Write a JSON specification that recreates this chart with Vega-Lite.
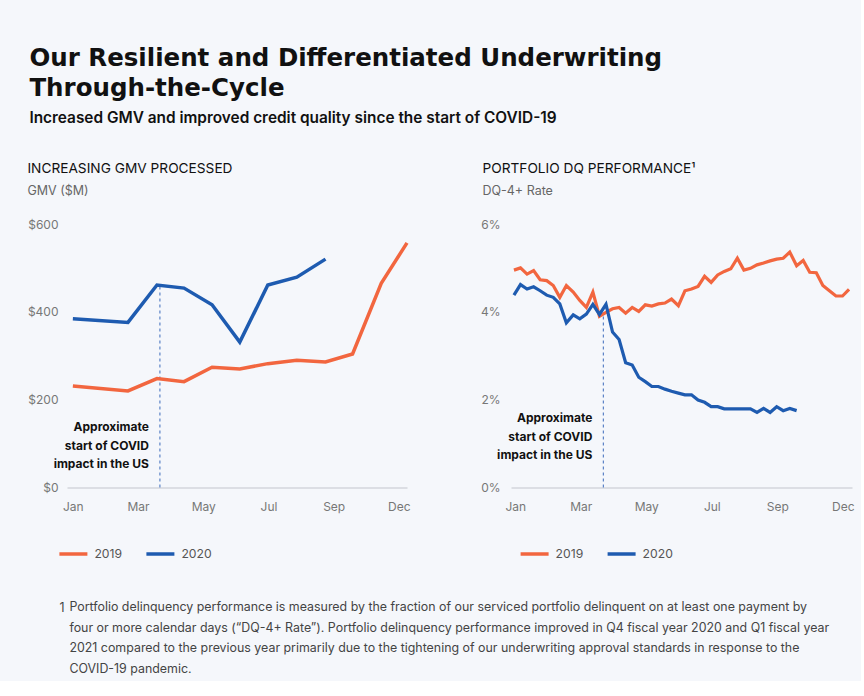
{
  "$schema": "https://vega.github.io/schema/vega-lite/v6.json",
  "padding": {"left": 27, "top": 46, "right": 5, "bottom": 5},
  "background": "#f5f7fb",
  "title": {
    "text": ["Our Resilient and Differentiated Underwriting", "Through-the-Cycle"],
    "subtitle": "Increased GMV and improved credit quality since the start of COVID-19",
    "anchor": "start",
    "frame": "bounds",
    "dx": 2,
    "font": "DejaVu Sans",
    "fontSize": 24.5,
    "fontWeight": "bold",
    "lineHeight": 30,
    "color": "#111111",
    "subtitleFont": "Inter",
    "subtitleFontSize": 15.4,
    "subtitleFontWeight": 600,
    "subtitleColor": "#111111",
    "subtitlePadding": 9,
    "offset": 35
  },
  "datasets": {
    "gmv": [
      {"x": 0, "value": 231, "year": "2019"},
      {"x": 1.69, "value": 220, "year": "2019"},
      {"x": 2.58, "value": 248, "year": "2019"},
      {"x": 3.41, "value": 241, "year": "2019"},
      {"x": 4.27, "value": 274, "year": "2019"},
      {"x": 5.12, "value": 270, "year": "2019"},
      {"x": 5.98, "value": 282, "year": "2019"},
      {"x": 6.87, "value": 290, "year": "2019"},
      {"x": 7.75, "value": 286, "year": "2019"},
      {"x": 8.58, "value": 304, "year": "2019"},
      {"x": 9.46, "value": 465, "year": "2019"},
      {"x": 10.25, "value": 557, "year": "2019"},
      {"x": 0, "value": 384, "year": "2020"},
      {"x": 1.69, "value": 376, "year": "2020"},
      {"x": 2.58, "value": 461, "year": "2020"},
      {"x": 3.41, "value": 454, "year": "2020"},
      {"x": 4.27, "value": 416, "year": "2020"},
      {"x": 5.12, "value": 331, "year": "2020"},
      {"x": 5.98, "value": 461, "year": "2020"},
      {"x": 6.87, "value": 479, "year": "2020"},
      {"x": 7.75, "value": 520, "year": "2020"}
    ],
    "dq": [
      {"x": -0.04, "value": 4.95, "year": "2019"},
      {"x": 0.16, "value": 5.0, "year": "2019"},
      {"x": 0.36, "value": 4.86, "year": "2019"},
      {"x": 0.56, "value": 4.94, "year": "2019"},
      {"x": 0.76, "value": 4.73, "year": "2019"},
      {"x": 0.96, "value": 4.71, "year": "2019"},
      {"x": 1.16, "value": 4.6, "year": "2019"},
      {"x": 1.36, "value": 4.33, "year": "2019"},
      {"x": 1.56, "value": 4.6, "year": "2019"},
      {"x": 1.77, "value": 4.45, "year": "2019"},
      {"x": 1.97, "value": 4.26, "year": "2019"},
      {"x": 2.17, "value": 4.1, "year": "2019"},
      {"x": 2.37, "value": 4.45, "year": "2019"},
      {"x": 2.57, "value": 3.9, "year": "2019"},
      {"x": 2.77, "value": 3.99, "year": "2019"},
      {"x": 2.97, "value": 4.07, "year": "2019"},
      {"x": 3.17, "value": 4.1, "year": "2019"},
      {"x": 3.37, "value": 3.97, "year": "2019"},
      {"x": 3.57, "value": 4.1, "year": "2019"},
      {"x": 3.77, "value": 4.01, "year": "2019"},
      {"x": 3.97, "value": 4.16, "year": "2019"},
      {"x": 4.17, "value": 4.13, "year": "2019"},
      {"x": 4.37, "value": 4.18, "year": "2019"},
      {"x": 4.57, "value": 4.2, "year": "2019"},
      {"x": 4.77, "value": 4.29, "year": "2019"},
      {"x": 4.98, "value": 4.14, "year": "2019"},
      {"x": 5.18, "value": 4.48, "year": "2019"},
      {"x": 5.38, "value": 4.52, "year": "2019"},
      {"x": 5.58, "value": 4.58, "year": "2019"},
      {"x": 5.78, "value": 4.81, "year": "2019"},
      {"x": 5.98, "value": 4.67, "year": "2019"},
      {"x": 6.18, "value": 4.84, "year": "2019"},
      {"x": 6.38, "value": 4.92, "year": "2019"},
      {"x": 6.58, "value": 4.98, "year": "2019"},
      {"x": 6.78, "value": 5.22, "year": "2019"},
      {"x": 6.98, "value": 4.95, "year": "2019"},
      {"x": 7.18, "value": 4.99, "year": "2019"},
      {"x": 7.38, "value": 5.07, "year": "2019"},
      {"x": 7.58, "value": 5.11, "year": "2019"},
      {"x": 7.78, "value": 5.16, "year": "2019"},
      {"x": 7.98, "value": 5.2, "year": "2019"},
      {"x": 8.18, "value": 5.22, "year": "2019"},
      {"x": 8.38, "value": 5.36, "year": "2019"},
      {"x": 8.59, "value": 5.05, "year": "2019"},
      {"x": 8.79, "value": 5.17, "year": "2019"},
      {"x": 8.99, "value": 4.9, "year": "2019"},
      {"x": 9.19, "value": 4.89, "year": "2019"},
      {"x": 9.39, "value": 4.6, "year": "2019"},
      {"x": 9.59, "value": 4.48, "year": "2019"},
      {"x": 9.79, "value": 4.36, "year": "2019"},
      {"x": 9.99, "value": 4.36, "year": "2019"},
      {"x": 10.19, "value": 4.51, "year": "2019"},
      {"x": -0.04, "value": 4.38, "year": "2020"},
      {"x": 0.16, "value": 4.62, "year": "2020"},
      {"x": 0.36, "value": 4.52, "year": "2020"},
      {"x": 0.56, "value": 4.57, "year": "2020"},
      {"x": 0.76, "value": 4.48, "year": "2020"},
      {"x": 0.96, "value": 4.38, "year": "2020"},
      {"x": 1.16, "value": 4.33, "year": "2020"},
      {"x": 1.36, "value": 4.18, "year": "2020"},
      {"x": 1.56, "value": 3.75, "year": "2020"},
      {"x": 1.77, "value": 3.93, "year": "2020"},
      {"x": 1.97, "value": 3.84, "year": "2020"},
      {"x": 2.17, "value": 3.95, "year": "2020"},
      {"x": 2.37, "value": 4.17, "year": "2020"},
      {"x": 2.57, "value": 3.94, "year": "2020"},
      {"x": 2.77, "value": 4.17, "year": "2020"},
      {"x": 2.97, "value": 3.54, "year": "2020"},
      {"x": 3.17, "value": 3.37, "year": "2020"},
      {"x": 3.37, "value": 2.84, "year": "2020"},
      {"x": 3.57, "value": 2.79, "year": "2020"},
      {"x": 3.77, "value": 2.51, "year": "2020"},
      {"x": 3.97, "value": 2.41, "year": "2020"},
      {"x": 4.17, "value": 2.3, "year": "2020"},
      {"x": 4.37, "value": 2.3, "year": "2020"},
      {"x": 4.57, "value": 2.24, "year": "2020"},
      {"x": 4.77, "value": 2.19, "year": "2020"},
      {"x": 4.98, "value": 2.15, "year": "2020"},
      {"x": 5.18, "value": 2.11, "year": "2020"},
      {"x": 5.38, "value": 2.11, "year": "2020"},
      {"x": 5.58, "value": 1.99, "year": "2020"},
      {"x": 5.78, "value": 1.94, "year": "2020"},
      {"x": 5.98, "value": 1.84, "year": "2020"},
      {"x": 6.18, "value": 1.84, "year": "2020"},
      {"x": 6.38, "value": 1.79, "year": "2020"},
      {"x": 6.58, "value": 1.79, "year": "2020"},
      {"x": 6.78, "value": 1.79, "year": "2020"},
      {"x": 6.98, "value": 1.79, "year": "2020"},
      {"x": 7.18, "value": 1.79, "year": "2020"},
      {"x": 7.38, "value": 1.71, "year": "2020"},
      {"x": 7.58, "value": 1.8, "year": "2020"},
      {"x": 7.78, "value": 1.71, "year": "2020"},
      {"x": 7.98, "value": 1.84, "year": "2020"},
      {"x": 8.18, "value": 1.75, "year": "2020"},
      {"x": 8.38, "value": 1.8, "year": "2020"},
      {"x": 8.59, "value": 1.75, "year": "2020"}
    ]
  },
  "vconcat": [
    {
      "title": {
        "text": [
          "Portfolio delinquency performance is measured by the fraction of our serviced portfolio delinquent on at least one payment by",
          "four or more calendar days (\u201cDQ-4+ Rate\u201d). Portfolio delinquency performance improved in Q4 fiscal year 2020 and Q1 fiscal year",
          "2021 compared to the previous year primarily due to the tightening of our underwriting approval standards in response to the",
          "COVID-19 pandemic."
        ],
        "orient": "bottom",
        "anchor": "start",
        "frame": "bounds",
        "dx": 42,
        "fontSize": 12.4,
        "fontWeight": "normal",
        "color": "#444444",
        "lineHeight": 20.5,
        "offset": -13
      },
      "vconcat": [
        {
          "title": {
            "text": "1",
            "orient": "bottom",
            "anchor": "start",
            "frame": "bounds",
            "dx": 32,
            "fontSize": 12.4,
            "fontWeight": "normal",
            "color": "#444444",
            "lineHeight": 20.5,
            "offset": 41
          },
          "spacing": 66,
          "resolve": {"scale": {"color": "shared"}, "legend": {"color": "independent"}},
          "hconcat": [
            {
              "title": {"text": "INCREASING GMV PROCESSED", "subtitle": "GMV ($M)"},
              "width": 340,
              "height": 263.5,
              "layer": [
                {
                  "data": {"values": [{}]},
                  "mark": {"type": "rule", "strokeDash": [3, 3], "strokeWidth": 1.2, "color": "#5b82c6"},
                  "encoding": {
                    "x": {"datum": 2.67, "type": "quantitative"},
                    "y": {"datum": 0, "type": "quantitative"},
                    "y2": {"datum": 461}
                  }
                },
                {
                  "data": {"values": [{}]},
                  "mark": {"type": "text", "align": "right", "baseline": "middle", "dx": -11, "lineBreak": "\n", "lineHeight": 18.5, "fontSize": 12, "fontWeight": "bold", "color": "#111111"},
                  "encoding": {
                    "x": {"datum": 2.67, "type": "quantitative"},
                    "y": {"datum": 137, "type": "quantitative"},
                    "text": {"value": "Approximate\nstart of COVID\nimpact in the US"}
                  }
                },
                {
                  "data": {"name": "gmv"},
                  "mark": {"type": "line", "strokeWidth": 3.5},
                  "encoding": {
                    "x": {
                      "field": "x", "type": "quantitative",
                      "scale": {"domain": [-0.18, 10.25], "nice": false, "zero": false},
                      "axis": {"title": null, "values": [0, 2, 4, 6, 8, 10], "labelExpr": "['Jan','Mar','May','Jul','Sep','Dec'][round(datum.value/2)]"}
                    },
                    "y": {
                      "field": "value", "type": "quantitative",
                      "scale": {"domain": [0, 600], "nice": false},
                      "axis": {"title": null, "values": [0, 200, 400, 600], "labelExpr": "'$' + datum.value"}
                    },
                    "color": {
                      "field": "year", "type": "nominal",
                      "scale": {"domain": ["2019", "2020"], "range": ["#f2663f", "#1e5bb0"]},
                      "legend": {"orient": "none", "legendX": -9.6, "legendY": 314}
                    }
                  }
                }
              ]
            },
            {
              "title": {"text": "PORTFOLIO DQ PERFORMANCE\u00b9", "subtitle": "DQ-4+ Rate", "dx": 2},
              "width": 341,
              "height": 263.5,
              "layer": [
                {
                  "data": {"values": [{}]},
                  "mark": {"type": "rule", "strokeDash": [3, 3], "strokeWidth": 1.2, "color": "#5b82c6"},
                  "encoding": {
                    "x": {"datum": 2.69, "type": "quantitative"},
                    "y": {"datum": 0, "type": "quantitative"},
                    "y2": {"datum": 3.95}
                  }
                },
                {
                  "data": {"values": [{}]},
                  "mark": {"type": "text", "align": "right", "baseline": "middle", "dx": -11, "lineBreak": "\n", "lineHeight": 18.5, "fontSize": 12, "fontWeight": "bold", "color": "#111111"},
                  "encoding": {
                    "x": {"datum": 2.69, "type": "quantitative"},
                    "y": {"datum": 1.58, "type": "quantitative"},
                    "text": {"value": "Approximate\nstart of COVID\nimpact in the US"}
                  }
                },
                {
                  "data": {"name": "dq"},
                  "mark": {"type": "line", "strokeWidth": 3.2},
                  "encoding": {
                    "x": {
                      "field": "x", "type": "quantitative",
                      "scale": {"domain": [-0.13, 10.28], "nice": false, "zero": false},
                      "axis": {"title": null, "values": [0, 2, 4, 6, 8, 10], "labelExpr": "['Jan','Mar','May','Jul','Sep','Dec'][round(datum.value/2)]"}
                    },
                    "y": {
                      "field": "value", "type": "quantitative",
                      "scale": {"domain": [0, 6], "nice": false},
                      "axis": {"title": null, "values": [0, 2, 4, 6], "labelExpr": "datum.value + '%'", "labelPadding": 11}
                    },
                    "color": {
                      "field": "year", "type": "nominal",
                      "scale": {"domain": ["2019", "2020"], "range": ["#f2663f", "#1e5bb0"]},
                      "legend": {"orient": "none", "legendX": 7.6, "legendY": 314}
                    }
                  }
                }
              ]
            }
          ]
        }
      ]
    }
  ],
  "config": {
    "font": "Inter",
    "view": {"stroke": null},
    "axis": {"grid": false, "ticks": false, "domain": false, "labelColor": "#777777", "labelFontSize": 12, "labelFont": "Inter"},
    "axisX": {"domain": true, "domainColor": "#d3d6dc", "domainWidth": 1.5, "labelPadding": 14},
    "axisY": {"labelPadding": 9},
    "legend": {
      "title": null,
      "direction": "horizontal",
      "symbolType": "stroke",
      "symbolSize": 784,
      "symbolStrokeWidth": 3.5,
      "labelFontSize": 12.2,
      "labelColor": "#555555",
      "labelOffset": 5,
      "columnPadding": 17,
      "padding": 0
    },
    "title": {
      "anchor": "start",
      "frame": "bounds",
      "fontSize": 13.7,
      "fontWeight": "normal",
      "color": "#111111",
      "subtitleFontSize": 12.5,
      "subtitleColor": "#666666",
      "subtitlePadding": 9,
      "offset": 20.5
    }
  }
}
